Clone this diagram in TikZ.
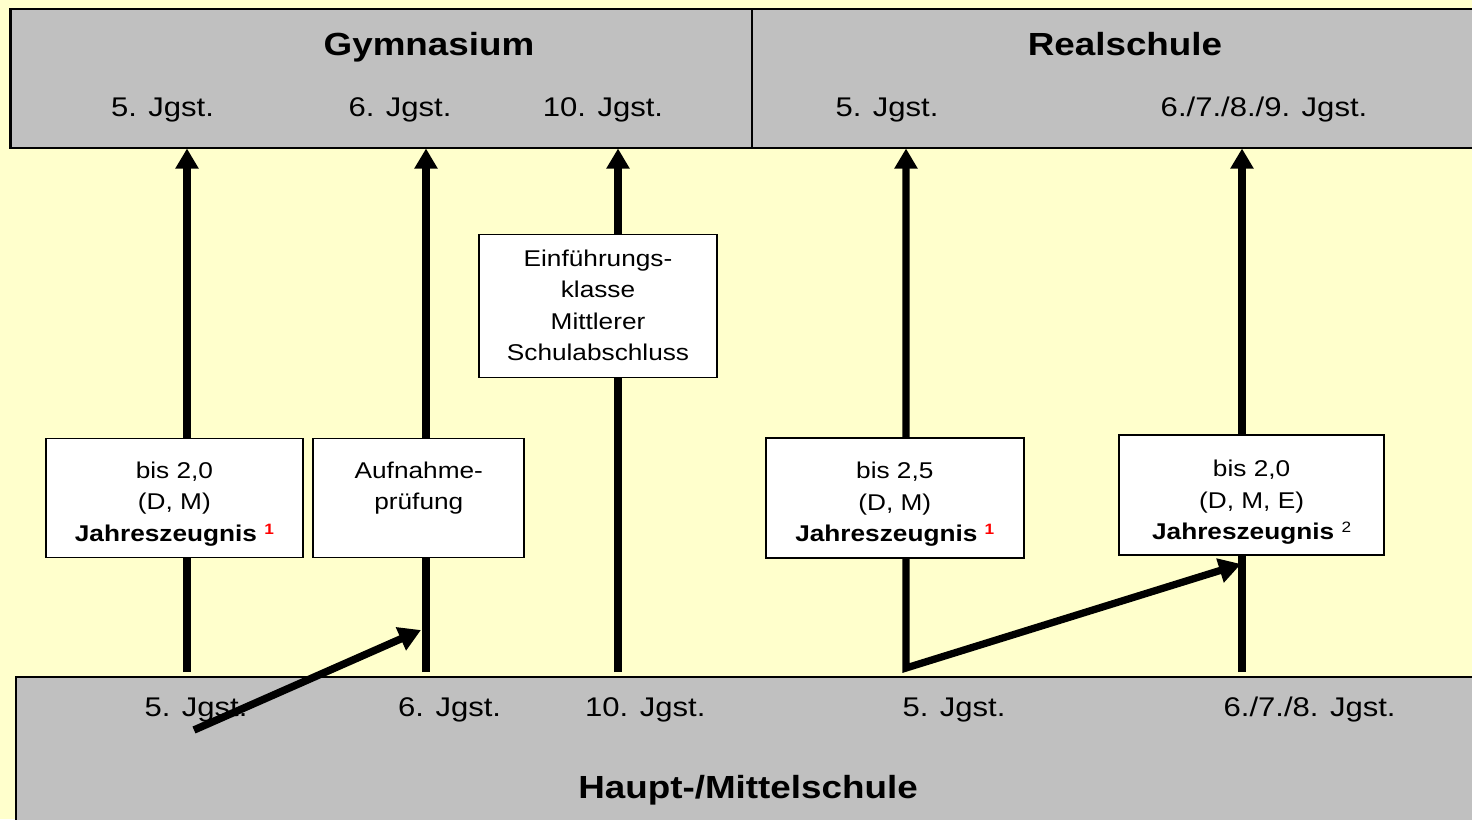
\documentclass[tikz,border=0pt]{standalone}
\usepackage{fontspec}
\setmainfont{Liberation Sans}[FakeStretch=1.15]
\usepackage{tikz}
\usetikzlibrary{arrows.meta,positioning}

\definecolor{papier}{HTML}{FFFFCC}
\definecolor{schulgrau}{HTML}{C0C0C0}
\definecolor{fnrot}{HTML}{FF0000}

\newcommand{\fnmark}[1]{\raisebox{7pt}{\fontsize{15}{15}\selectfont #1}}

\tikzset{
	schule/.style={draw, line width=2.5pt, fill=schulgrau, inner sep=0pt},
	titel/.style={font=\fontsize{32}{36}\selectfont\bfseries, inner sep=0pt, anchor=base},
	jgst/.style={font=\fontsize{27}{31}\selectfont, inner sep=0pt, anchor=base},
	rahmen/.style={draw, line width=1.8pt, fill=white, inner sep=0pt},
	btext/.style={font=\fontsize{22.8}{31.5}\selectfont, align=center, inner sep=0pt},
	pfeil/.style={line width=7.3pt, -{Triangle[length=20pt,width=22pt]}},
	quer/.style={line width=7.5pt, -{Triangle[length=22pt,width=24pt]}}
}

\begin{document}
\begin{tikzpicture}[x=1pt, y=-1pt]
			% background
			\fill[papier] (0,0) rectangle (1472,819);
			\useasboundingbox (0,0) rectangle (1472,819);

			% schools
			\node[schule, minimum width=742pt, minimum height=139pt] (gym) at (381.5,78.7) {};
			\node[schule, minimum width=738pt, minimum height=139pt] (real) at (1121,78.7) {};
			\node[schule, minimum width=1474pt, minimum height=153pt] (haupt) at (753,753.4) {};

			% transitions
			\foreach \n/\x in {gfuenf/187, gsechs/426, gzehn/618, rsechs/1242} {
				\coordinate (\n-unten) at (\x,672);
				\coordinate (\n-oben) at (\x,148.5);
				\draw[pfeil] (\n-unten) -- (\n-oben);
			}
			\coordinate (rfuenf-oben) at (906,148.5);
			\coordinate (rfuenf-knick) at (906,668);
			\coordinate (rsechs-ziel) at (1241,564);
			\draw[{Triangle[length=20pt,width=22pt]}-{Triangle[length=22pt,width=24pt]}, line width=7.3pt, line join=miter]
				(rfuenf-oben) -- (rfuenf-knick) -- (rsechs-ziel);

			% conditions
			\node[rahmen, minimum width=257pt, minimum height=119pt] (zgym) at (174.4,498) {};
			\node[btext, below=24pt of zgym.north] (zgymt)
				{bis 2,0\\(D, M)\\\textbf{Jahreszeugnis \textcolor{fnrot}{\fnmark{1}}}};
			\node[rahmen, minimum width=211pt, minimum height=119pt] (aufn) at (418.8,498) {};
			\node[btext, below=24pt of aufn.north] (aufnt) {Aufnahme-\\prüfung};
			\node[rahmen, minimum width=238pt, minimum height=143pt] (einf) at (598,306) {};
			\node[btext, below=16pt of einf.north] (einft)
				{Einführungs-\\klasse\\Mittlerer\\Schulabschluss};
			\node[rahmen, minimum width=258pt, minimum height=120pt] (zreal) at (894.8,498.3) {};
			\node[btext, below=24.5pt of zreal.north] (zrealt)
				{bis 2,5\\(D, M)\\\textbf{Jahreszeugnis \textcolor{fnrot}{\fnmark{1}}}};
			\node[rahmen, minimum width=265pt, minimum height=120pt] (zrs) at (1251.6,495) {};
			\node[btext, below=26pt of zrs.north] (zrst)
				{bis 2,0\\(D, M, E)\\\textbf{Jahreszeugnis} \fnmark{2}};

			% labels
			\node[titel] (gymt) at (429,55) {Gymnasium};
			\node[titel] (realt) at (1125,55) {Realschule};
			\node[titel] (hauptt) at (748,798) {Haupt-/Mittelschule};
			\node[jgst] (g5) at (162.5,116.5) {5. Jgst.};
			\node[jgst] (g6) at (400,116.5) {6. Jgst.};
			\node[jgst] (g10) at (603,116.5) {10. Jgst.};
			\node[jgst] (r5) at (887,116.5) {5. Jgst.};
			\node[jgst] (r6) at (1264,116.5) {6./7./8./9. Jgst.};
			\node[jgst] (h5) at (196,716) {5. Jgst.};
			\node[jgst] (h6) at (449.6,716) {6. Jgst.};
			\node[jgst] (h10) at (645.3,716) {10. Jgst.};
			\node[jgst] (hr5) at (954,716) {5. Jgst.};
			\node[jgst] (hr6) at (1309.6,716) {6./7./8. Jgst.};

			% skipping from 5 to 6
			\coordinate (hfuenf-start) at (194,730);
			\coordinate (gsechs-ziel) at (421,630);
			\draw[quer] (hfuenf-start) -- (gsechs-ziel);
		\end{tikzpicture}
\end{document}
